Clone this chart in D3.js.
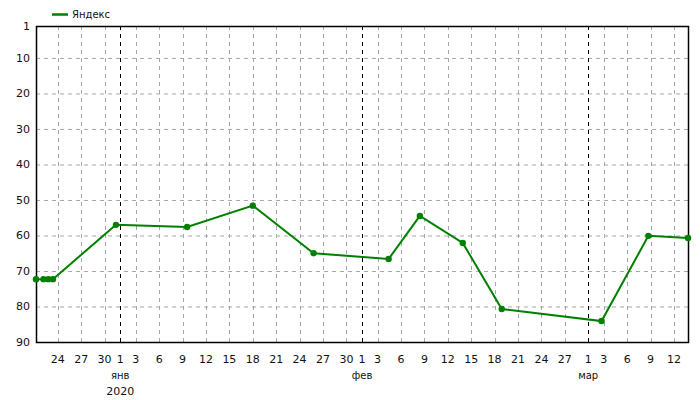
<!DOCTYPE html>
<html><head><meta charset="utf-8">
<script src="https://cdn.jsdelivr.net/npm/d3@7"></script>
<style>body{margin:0;background:#fff;} text{font-family:"DejaVu Sans",Verdana,sans-serif;}</style>
</head><body>
<svg id="c" width="700" height="400"></svg>
<script>
const seriesName = "Яндекс";
const dates = ["2019-12-21T05:00","2019-12-22T04:00","2019-12-22T19:00","2019-12-23T09:00","2019-12-31T11:00","2020-01-09T14:00","2020-01-18T00:00","2020-01-25T19:00","2020-02-04T10:00","2020-02-08T10:00","2020-02-13T22:00","2020-02-18T22:00","2020-03-02T17:00","2020-03-08T17:00","2020-03-13T19:00"];
const positions = [72.3,72.3,72.3,72.3,57.0,57.6,51.6,65.0,66.6,54.5,62.1,80.7,84.1,60.1,60.7];
const yTicks = [1,10,20,30,40,50,60,70,80,90];
const xTickDates = ["2019-12-24","2019-12-27","2019-12-30","2020-01-01","2020-01-03","2020-01-06","2020-01-09","2020-01-12","2020-01-15","2020-01-18","2020-01-21","2020-01-24","2020-01-27","2020-01-30","2020-02-01","2020-02-03","2020-02-06","2020-02-09","2020-02-12","2020-02-15","2020-02-18","2020-02-21","2020-02-24","2020-02-27","2020-03-01","2020-03-03","2020-03-06","2020-03-09","2020-03-12"];
const monthLabels = [{d:"2020-01-01",t:"янв"},{d:"2020-02-01",t:"фев"},{d:"2020-03-01",t:"мар"}];
const yearLabel = {d:"2020-01-01",t:"2020"};

const parse = s => new Date(s);
const data = dates.map((d,i)=>({date:parse(d), v:positions[i]}));
const L=36,R=688,T=26,B=342;
const svg = d3.select("#c");
const x = d3.scaleTime().domain([data[0].date, data[data.length-1].date]).range([L,R]);
const y = d3.scaleLinear().domain([1,90]).range([T,B]);
const green = "#008000";

// horizontal grid
svg.append("g").selectAll("line").data(yTicks.filter(v=>v>1&&v<90)).join("line")
  .attr("x1",L).attr("x2",R).attr("y1",d=>y(d)+0.5).attr("y2",d=>y(d)+0.5)
  .attr("stroke","#a8a8a8").attr("stroke-dasharray","4,4");
// vertical grid
const xt = xTickDates.map(parse);
svg.append("g").selectAll("line").data(xt).join("line")
  .attr("x1",d=>Math.round(x(d))+0.5).attr("x2",d=>Math.round(x(d))+0.5).attr("y1",T).attr("y2",B)
  .attr("stroke",d=>d.getDate()===1?"#000":"#a8a8a8").attr("stroke-dasharray","4,4");

// border
svg.append("rect").attr("x",L+0.5).attr("y",T+0.5).attr("width",R-L).attr("height",B-T)
  .attr("fill","none").attr("stroke","#000").attr("stroke-width",1.5);

// y labels
svg.append("g").selectAll("text").data(yTicks).join("text")
  .attr("x",L-6).attr("y",d=>y(d)).attr("dy","0.35em").attr("text-anchor","end")
  .attr("font-size",11).attr("fill","#111").text(d=>d);
// x labels
svg.append("g").selectAll("text").data(xt).join("text")
  .attr("x",d=>x(d)).attr("y",363).attr("text-anchor","middle")
  .attr("font-size",11).attr("fill","#111").text(d=>d.getDate());
svg.append("g").selectAll("text").data(monthLabels).join("text")
  .attr("x",d=>x(parse(d.d))).attr("y",379).attr("text-anchor","middle")
  .attr("font-size",10).attr("fill","#111").text(d=>d.t);
svg.append("text").attr("x",x(parse(yearLabel.d))).attr("y",395).attr("text-anchor","middle")
  .attr("font-size",11).attr("fill","#111").text(yearLabel.t);

// line
svg.append("path").datum(data).attr("fill","none").attr("stroke",green).attr("stroke-width",2)
  .attr("d",d3.line().x(d=>x(d.date)).y(d=>y(d.v)));
svg.append("g").selectAll("circle").data(data).join("circle")
  .attr("cx",d=>x(d.date)).attr("cy",d=>y(d.v)).attr("r",3.2).attr("fill",green);

// legend
svg.append("line").attr("x1",52).attr("x2",68).attr("y1",14.5).attr("y2",14.5).attr("stroke",green).attr("stroke-width",2.5);
svg.append("text").attr("x",72).attr("y",14).attr("dy","0.35em").attr("font-size",10).attr("fill","#111").text(seriesName);
</script>
</body></html>
